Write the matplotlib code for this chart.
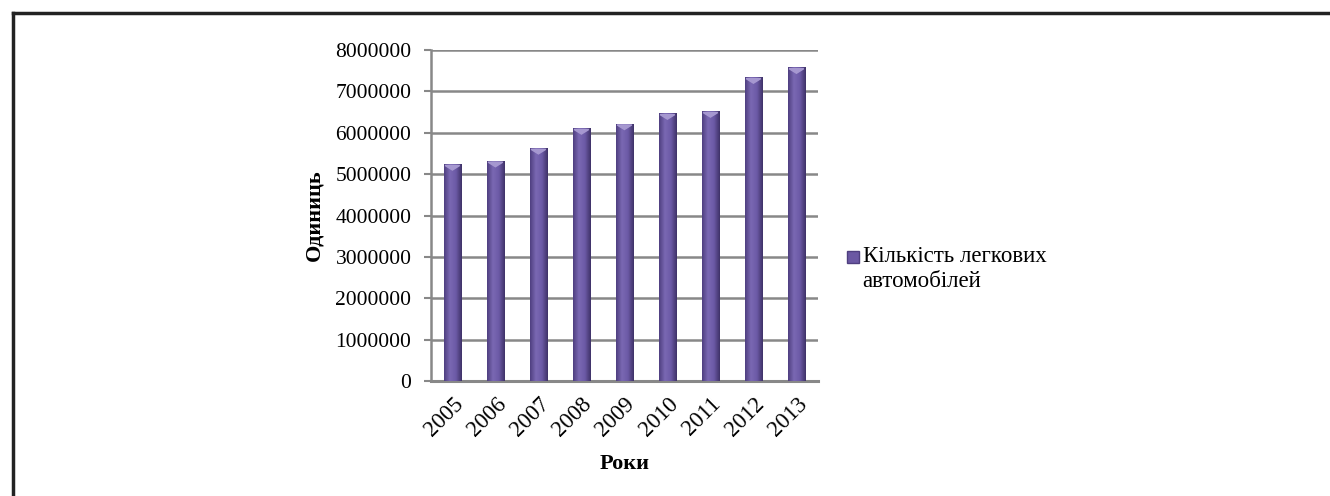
import numpy as np
import matplotlib
matplotlib.use('Agg')
import matplotlib.pyplot as plt
from matplotlib.lines import Line2D
from matplotlib.colors import LinearSegmentedColormap

years = ['2005', '2006', '2007', '2008', '2009', '2010', '2011', '2012', '2013']
cars = [5240000, 5320000, 5630000, 6110000, 6220000, 6470000, 6520000, 7340000, 7580000]
y_ticks = [0, 1000000, 2000000, 3000000, 4000000, 5000000, 6000000, 7000000, 8000000]
series_name = 'Кількість легкових\nавтомобілей'

plt.rcParams['font.family'] = ['Liberation Serif', 'DejaVu Serif']

fig = plt.figure(figsize=(13.3, 4.96), dpi=100)
ax = fig.add_axes([0.324, 0.232, 0.291, 0.667])

x = np.arange(len(years))
bars = ax.bar(x, cars, width=0.4, color='#6b58a3', zorder=3)

# cylinder-like shading on every bar
cmap = LinearSegmentedColormap.from_list('bar', ['#4f3f80', '#7a68b3', '#6c5aa6', '#3f3268'])
grad = np.linspace(0, 1, 64).reshape(1, -1)
for b in bars:
    x0, w, h = b.get_x(), b.get_width(), b.get_height()
    im = ax.imshow(grad, cmap=cmap, aspect='auto', extent=[x0, x0 + w, 0, h], zorder=4)
    im.set_clip_path(b)
    # light cap at the top of the bar
    ax.fill([x0 + 0.03, x0 + w - 0.03, x0 + w / 2], [h - 0.03e6, h - 0.03e6, h - 0.14e6],
            color='#a698d0', zorder=5)

ax.set_xlim(-0.5, len(years) - 0.5)
ax.set_ylim(0, 8000000)
ax.set_yticks(y_ticks)
ax.set_yticklabels([str(v) for v in y_ticks], fontsize=15.5)
ax.set_xticks(x)
ax.set_xticklabels(years, rotation=45, ha='right', rotation_mode='anchor', fontsize=16.5)
ax.tick_params(axis='x', length=0, pad=9)
ax.tick_params(axis='y', length=5, width=1.5, color='#888888', pad=9)

ax.grid(axis='y', color='#888888', linewidth=1.8, zorder=0)
for s in ['top', 'right']:
    ax.spines[s].set_visible(False)
ax.spines['left'].set_color('#888888')
ax.spines['left'].set_linewidth(1.8)
ax.spines['bottom'].set_color('#888888')
ax.spines['bottom'].set_linewidth(2.2)

ax.set_ylabel('Одиниць', fontsize=16, fontweight='bold', labelpad=8)
ax.set_xlabel('Роки', fontsize=16, fontweight='bold', labelpad=10)

# legend: marker next to the first line of the label
fig.add_artist(Line2D([0.6415], [0.482], marker='s', linestyle='none', markersize=8,
                      markerfacecolor='#6b58a3', markeredgecolor='#4f3f80',
                      transform=fig.transFigure))
fig.text(0.6485, 0.505, series_name, fontsize=16.5, va='top', ha='left', linespacing=1.3)

# outer frame (left and top edges)
fig.add_artist(Line2D([0.0098, 0.0098], [0.0, 0.973], color='#222222', linewidth=2.5,
                      transform=fig.transFigure))
fig.add_artist(Line2D([0.0098, 1.0], [0.973, 0.973], color='#222222', linewidth=2.5,
                      transform=fig.transFigure))

fig.savefig('out.png', dpi=100)
